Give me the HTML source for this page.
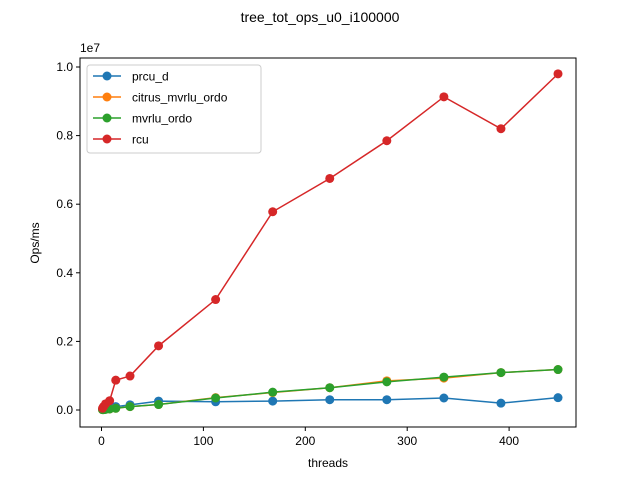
<!DOCTYPE html>
<html><head><meta charset="utf-8"><style>
body{margin:0;background:#fff}
svg{font-family:"Liberation Sans","DejaVu Sans",sans-serif}
</style></head><body>
<svg id="c" width="640" height="480">
<rect width="640" height="480" fill="#fff"/>
<text x="320" y="22" text-anchor="middle" font-size="14">tree_tot_ops_u0_i100000</text>
<g id="ax"></g>
<g id="series"></g>
<rect x="80" y="58" width="496" height="369" fill="none" stroke="#000" stroke-width="1"/>
<text x="80" y="52" font-size="12">1e7</text>
<text x="328" y="467" text-anchor="middle" font-size="12">threads</text>
<text transform="translate(39,243) rotate(-90)" text-anchor="middle" font-size="12">Ops/ms</text>
<g id="legend"></g>
</svg>
<script>
const threads=[1,2,4,8,14,28,56,112,168,224,280,336,392,448];
const names=["prcu_d","citrus_mvrlu_ordo","mvrlu_ordo","rcu"];
const colors=["#1f77b4","#ff7f0e","#2ca02c","#d62728"];
const prcu=[0.002,0.004,0.006,0.01,0.01,0.015,0.026,0.024,0.026,0.03,0.03,0.035,0.02,0.036];
const citrus=[0.001,0.001,0.002,0.003,0.005,0.01,0.016,0.036,0.051,0.065,0.085,0.093,0.109,0.118];
const mvrlu=[0.001,0.001,0.002,0.003,0.005,0.01,0.016,0.035,0.052,0.065,0.082,0.096,0.109,0.118];
const rcu=[0.005,0.01,0.018,0.027,0.087,0.099,0.187,0.322,0.578,0.675,0.785,0.913,0.82,0.98];
const xTicks=[0,100,200,300,400];
const yTicks=[0,0.2,0.4,0.6,0.8,1.0];
const yTickLabels=["0.0","0.2","0.4","0.6","0.8","1.0"];
const all=[prcu,citrus,mvrlu,rcu];
const NS="http://www.w3.org/2000/svg";
const X=v=>101.5+v*1.019;
const Y=v=>410-v*343;
function mk(t,a,p){const e=document.createElementNS(NS,t);for(const k in a)e.setAttribute(k,a[k]);p.appendChild(e);return e;}
const ax=document.getElementById('ax');
xTicks.forEach(v=>{
 const l=mk('line',{x1:X(v),x2:X(v),y1:427,y2:431,stroke:'#000'},ax);
 
 
 const t=mk('text',{x:X(v),y:445,'text-anchor':'middle','font-size':12},ax);t.textContent=v;
 
 
});
yTicks.forEach((v,i)=>{
 const l=mk('line',{x1:76,x2:80,y1:Y(v),y2:Y(v),stroke:'#000'},ax);
 
 
 const t=mk('text',{x:73,y:Y(v)+4,'text-anchor':'end','font-size':12},ax);t.textContent=yTickLabels[i];
 
 
});
const sg=document.getElementById('series');
all.forEach((s,i)=>{
 const g=mk('g',{},sg);
 
 
 const p=mk('polyline',{points:s.map((v,j)=>X(threads[j])+','+Y(v)).join(' '),fill:'none',stroke:colors[i],'stroke-width':1.5},g);
 
 
 s.forEach((v,j)=>{const c=mk('circle',{cx:X(threads[j]),cy:Y(v),r:4.5,fill:colors[i]},g);
  
  });
});
const lg=document.getElementById('legend');
const box=mk('rect',{x:87,y:65,width:174,height:88,rx:3,fill:'#fff','fill-opacity':0.8,stroke:'#ccc'},lg);


names.forEach((n,i)=>{
 const y=76+i*21;
 const g=mk('g',{},lg);
 
 
 mk('line',{x1:93,x2:121,y1:y,y2:y,stroke:colors[i],'stroke-width':1.5},g);
 mk('circle',{cx:107,cy:y,r:4.5,fill:colors[i]},g);
 const t=mk('text',{x:132,y:y+4.5,'font-size':12},g);t.textContent=n;
});
</script>
</body></html>
